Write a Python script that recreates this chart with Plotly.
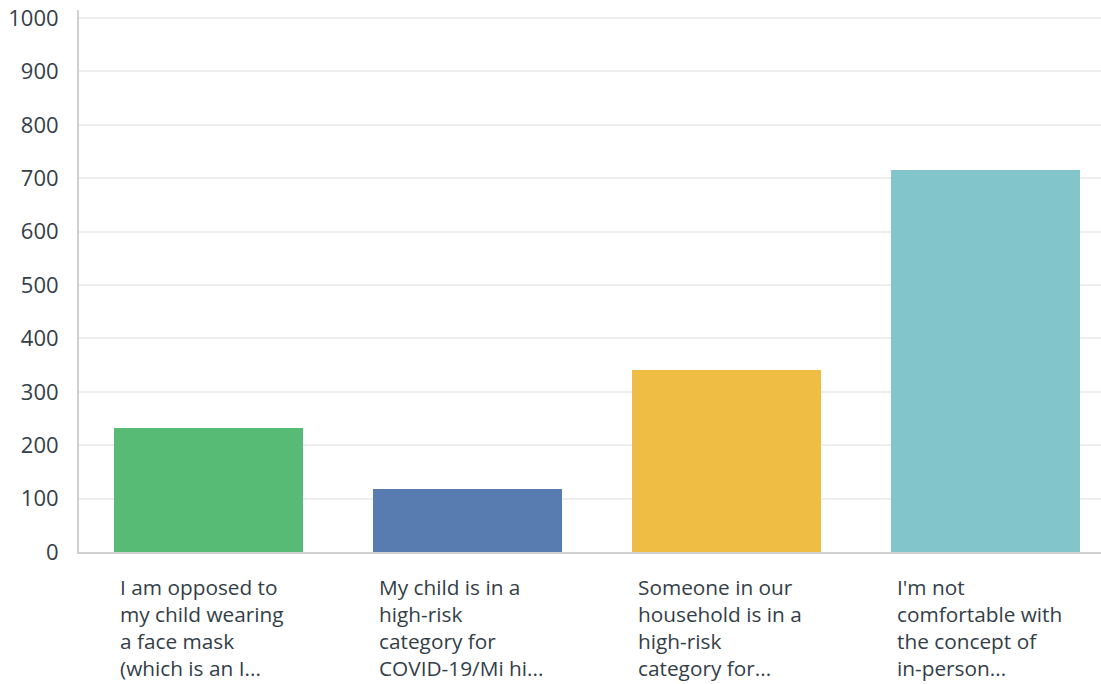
import plotly.graph_objects as go

categories = [
    "I am opposed to<br>my child wearing<br>a face mask<br>(which is an I...",
    "My child is in a<br>high-risk<br>category for<br>COVID-19/Mi hi...",
    "Someone in our<br>household is in a<br>high-risk<br>category for...",
    "I'm not<br>comfortable with<br>the concept of<br>in-person...",
]
values = [232, 118, 341, 715]
colors = ["#57BB75", "#587CB0", "#EFBD43", "#82C5CB"]
y_ticks = [0, 100, 200, 300, 400, 500, 600, 700, 800, 900, 1000]

FONT = "Open Sans"
TEXT = "#333E48"
BARW = 0.726

xs = list(range(len(categories)))
fig = go.Figure()
fig.add_trace(go.Bar(x=xs, y=values, marker=dict(color=colors, line=dict(width=0)),
                     width=BARW, hoverinfo="skip"))

for i, lab in enumerate(categories):
    fig.add_annotation(x=i - BARW / 2, y=0, xref="x", yref="y", text=lab,
                       xanchor="left", yanchor="top", align="left", showarrow=False,
                       xshift=4, yshift=-19,
                       font=dict(family=FONT, size=20.8, color=TEXT))

fig.update_layout(
    width=1101, height=684,
    margin=dict(l=79, r=0, t=10, b=132, autoexpand=False),
    plot_bgcolor="white", paper_bgcolor="white",
    showlegend=False,
    bargap=0,
    xaxis=dict(range=[-0.5, 3.446], showticklabels=False, showgrid=False,
               zeroline=False, showline=True, linecolor="#D0D0D0", linewidth=2,
               fixedrange=True, automargin=False),
    yaxis=dict(range=[0, 1015], tickvals=y_ticks, ticktext=[str(v) for v in y_ticks],
               showgrid=True, gridcolor="#EEEEEE", gridwidth=2, zeroline=False,
               showline=True, linecolor="#D0D0D0", linewidth=2,
               ticks="", ticklabelstandoff=14, automargin=False,
               tickfont=dict(family=FONT, size=22, color=TEXT)),
)

fig.write_html("out.html", config={"displayModeBar": False},
               post_script="document.body.style.margin='0';document.body.style.overflow='hidden';")
